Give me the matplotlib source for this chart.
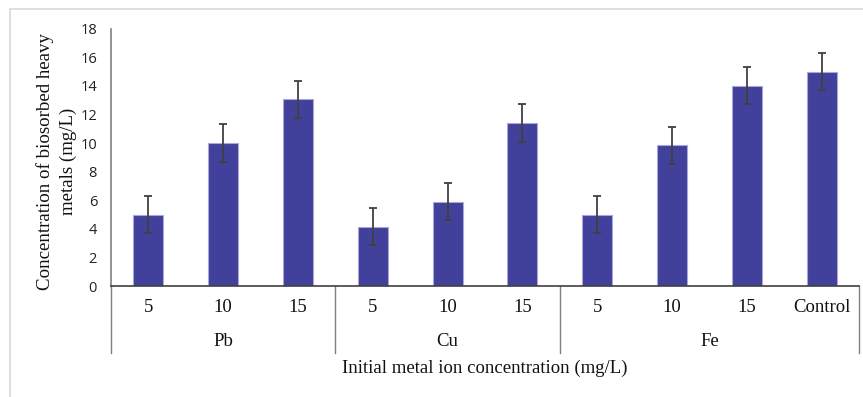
import matplotlib
matplotlib.use("Agg")
import matplotlib.pyplot as plt
import matplotlib.transforms as mtransforms
from matplotlib.patches import Rectangle

# Data
tick_labels = ["5", "10", "15", "5", "10", "15", "5", "10", "15", "Control"]
groups = ["Pb", "Cu", "Fe"]
group_spans = [(0, 2), (3, 5), (6, 9)]
values = [5.0, 10.0, 13.05, 4.15, 5.9, 11.4, 5.0, 9.85, 14.0, 15.0]
errors = [1.3, 1.3, 1.3, 1.3, 1.3, 1.3, 1.3, 1.3, 1.3, 1.3]

W, H = 863, 397
fig = plt.figure(figsize=(W / 100, H / 100), dpi=100)
fig.patch.set_facecolor("white")

# chart area frame
fig.patches.append(Rectangle((10 / W, -0.05), 1.2, 1 - 9 / H + 0.05,
                             transform=fig.transFigure, fill=False,
                             edgecolor="#d9d9d9", linewidth=1.2))

left, right = 111 / W, 859 / W
bottom, top = 1 - 286 / H, 1 - 28.7 / H
ax = fig.add_axes([left, bottom, right - left, top - bottom])

x = list(range(len(values)))
ax.bar(x, values, width=0.4, color="#41409A", edgecolor="#a9a8d8",
       linewidth=0.8, zorder=2)
ax.errorbar(x, values, yerr=errors, fmt="none", ecolor="#404040",
            elinewidth=1.3, capsize=3.2, capthick=1.3, zorder=3)

ax.set_xlim(-0.5, len(values) - 0.5)
ax.set_ylim(0, 18)
ax.set_yticks(range(0, 19, 2))
ax.tick_params(axis="y", length=0, labelsize=10.5, pad=10, labelcolor="#222222")
for lab in ax.get_yticklabels():
    lab.set_family("Open Sans")
ax.set_xticks([])

for s in ["top", "right"]:
    ax.spines[s].set_visible(False)
ax.spines["left"].set_color("#808080")
ax.spines["left"].set_linewidth(1.2)
ax.spines["bottom"].set_color("#404040")
ax.spines["bottom"].set_linewidth(1.2)

serif = "Liberation Serif"
trans = mtransforms.blended_transform_factory(ax.transData, ax.transAxes)
ax_h = 286 - 28.7

def ypos(px):
    return (286 - px) / ax_h

for xi, lab in zip(x, tick_labels):
    ax.text(xi, ypos(308), lab, transform=trans, ha="center", va="center",
            fontsize=13.5, family=serif, color="#111111")

for g, (a, b) in zip(groups, group_spans):
    ax.text((a + b) / 2, ypos(341), g, transform=trans, ha="center",
            va="center", fontsize=13.5, family=serif, color="#111111")

for sx in [-0.5, 2.5, 5.5, 9.5]:
    ax.plot([sx, sx], [0, ypos(353)], transform=trans, color="#808080",
            linewidth=1.0, clip_on=False)

ax.text(4.5, ypos(368), "Initial metal ion concentration (mg/L)",
        transform=trans, ha="center", va="center", fontsize=13.5,
        family=serif, color="#111111")

fig.text(56.5 / W, 1 - 161.5 / H,
         "Concentration of biosorbed heavy\nmetals (mg/L)",
         rotation=90, ha="center", va="center", fontsize=13.6,
         family=serif, color="#111111", linespacing=1.4,
         multialignment="center")

fig.savefig("out.png", dpi=100)
